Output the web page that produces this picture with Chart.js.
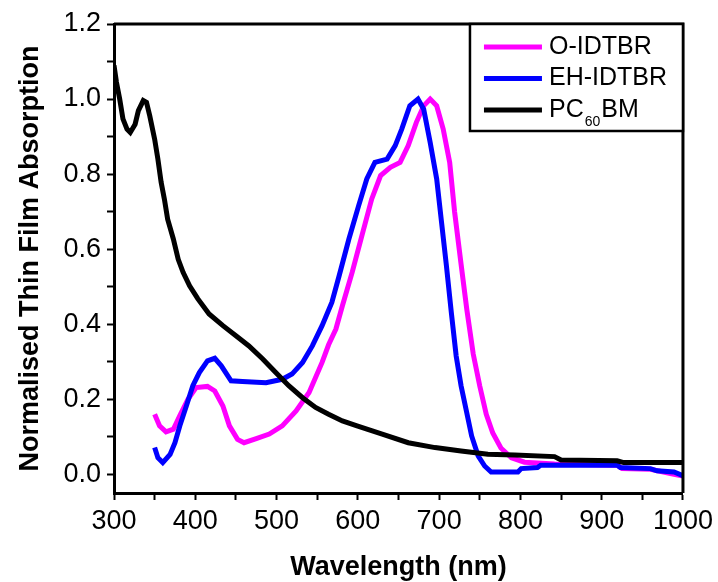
<!DOCTYPE html>
<html lang="en">
<head>
  <meta charset="UTF-8" />
  <title>Normalised Thin Film Absorption</title>
  <script src="https://cdn.jsdelivr.net/npm/chart.js"></script>
  <style>
    * { margin: 0; padding: 0; box-sizing: border-box; }
    body { background: #fff; }
    #absChart { display: block; }
  </style>
</head>
<body>
  <canvas id="absChart" width="718" height="582"></canvas>

  <script>
    // tick values
    const xTickValues = [300, 350, 400, 450, 500, 550, 600, 650, 700, 750, 800, 850, 900, 950, 1000];
    const yTickValues = [0, 0.1, 0.2, 0.3, 0.4, 0.5, 0.6, 0.7, 0.8, 0.9, 1.0, 1.1, 1.2];

    // O-IDTBR
    const oWave = [350, 356, 364, 373, 381, 391, 401, 415, 424, 434, 442, 452, 460, 475, 491, 507, 524, 540, 556, 564,
      573, 581, 593, 605, 617, 628, 640, 652, 662, 672, 681, 689, 697, 705, 713, 719, 727, 734, 742, 750,
      758, 766, 776, 789, 805, 842, 919, 925, 960, 989, 1000];
    const oAbs = [0.16, 0.129, 0.113, 0.12, 0.156, 0.2, 0.231, 0.234, 0.222, 0.182, 0.129, 0.093, 0.084, 0.095, 0.107, 0.129, 0.169, 0.218, 0.298, 0.345,
      0.387, 0.449, 0.538, 0.636, 0.733, 0.796, 0.818, 0.831, 0.876, 0.938, 0.982, 1.0, 0.982, 0.92, 0.831, 0.70, 0.56, 0.44, 0.32, 0.235,
      0.16, 0.11, 0.07, 0.044, 0.032, 0.027, 0.024, 0.015, 0.013, 0.0, -0.005];

    // EH-IDTBR
    const ehWave = [350, 354, 360, 369, 375, 381, 389, 397, 405, 415, 424, 432, 444, 458, 487, 507, 519, 532, 544, 556,
      568, 577, 589, 601, 611, 621, 636, 646, 654, 664, 674, 681, 689, 697, 703, 709, 715, 721, 727, 734,
      740, 748, 756, 764, 797, 801, 821, 825, 919, 923, 960, 968, 989, 1000];
    const ehAbs = [0.071, 0.044, 0.031, 0.053, 0.084, 0.129, 0.182, 0.236, 0.271, 0.302, 0.309, 0.289, 0.249, 0.247, 0.244, 0.253, 0.267, 0.298, 0.342, 0.396,
      0.458, 0.529, 0.627, 0.716, 0.787, 0.831, 0.84, 0.876, 0.92, 0.982, 1.0, 0.973, 0.884, 0.787, 0.671, 0.555, 0.431, 0.315, 0.236, 0.164,
      0.102, 0.049, 0.022, 0.006, 0.006, 0.015, 0.018, 0.024, 0.024, 0.018, 0.015, 0.009, 0.006, -0.004];

    // PC60BM
    const pcWave = [300, 303, 307, 311, 316, 320, 326, 330, 336, 340, 344, 350, 354, 358, 362, 366, 373, 379, 385, 393,
      403, 417, 434, 450, 466, 483, 499, 515, 532, 548, 564, 581, 599, 630, 662, 695, 727, 760, 793, 842,
      850, 919, 927, 1000];
    const pcAbs = [1.09, 1.045, 1.0, 0.947, 0.92, 0.911, 0.933, 0.969, 0.996, 0.991, 0.955, 0.893, 0.84, 0.778, 0.733, 0.68, 0.627, 0.573, 0.538, 0.502,
      0.468, 0.427, 0.396, 0.369, 0.342, 0.307, 0.271, 0.236, 0.204, 0.178, 0.16, 0.142, 0.129, 0.107, 0.084, 0.071, 0.062, 0.053, 0.051, 0.047,
      0.038, 0.036, 0.031, 0.031];

    const toPoints = (xs, ys) => xs.map((x, i) => ({ x: x, y: ys[i] }));

    const FONT = '"Liberation Sans", Arial, sans-serif';
    const tickFont = { family: FONT, size: 27 };
    const titleFont = { family: FONT, size: 27, weight: 'bold' };

    // box round the plot (top + right edges)
    const framePlugin = {
      id: 'frame',
      afterDraw(chart) {
        const { ctx, chartArea: a } = chart;
        ctx.save();
        ctx.strokeStyle = '#000';
        ctx.lineWidth = 3;
        ctx.beginPath();
        ctx.moveTo(a.left, a.top);
        ctx.lineTo(a.right, a.top);
        ctx.lineTo(a.right, a.bottom);
        ctx.stroke();
        ctx.restore();
      }
    };

    // legend with subscript for PC60BM
    const legendPlugin = {
      id: 'subLegend',
      afterDraw(chart) {
        const { ctx, chartArea: a } = chart;
        const w = 213, h = 107;
        const x0 = a.right - w, y0 = a.top;
        const rows = [
          { color: '#ff00ff', parts: [['O-IDTBR', false]] },
          { color: '#0000ff', parts: [['EH-IDTBR', false]] },
          { color: '#000000', parts: [['PC', false], ['60', true], ['BM', false]] }
        ];
        ctx.save();
        ctx.fillStyle = '#fff';
        ctx.fillRect(x0, y0, w, h);
        ctx.strokeStyle = '#000';
        ctx.lineWidth = 2.5;
        ctx.strokeRect(x0, y0, w, h);
        rows.forEach((r, i) => {
          const y = y0 + 23 + i * 31.5;
          ctx.strokeStyle = r.color;
          ctx.lineWidth = 5;
          ctx.beginPath();
          ctx.moveTo(x0 + 14, y);
          ctx.lineTo(x0 + 72, y);
          ctx.stroke();
          let tx = x0 + 79;
          ctx.fillStyle = '#000';
          ctx.textBaseline = 'middle';
          r.parts.forEach(([txt, sub]) => {
            ctx.font = sub ? '14px ' + FONT : '25px ' + FONT;
            ctx.fillText(txt, tx, sub ? y + 12 : y);
            tx += ctx.measureText(txt).width + 1;
          });
        });
        ctx.restore();
      }
    };

    const lineStyle = { borderWidth: 5, pointRadius: 0, tension: 0, fill: false };

    new Chart(document.getElementById('absChart'), {
      type: 'line',
      data: {
        datasets: [
          { label: 'PC60BM', data: toPoints(pcWave, pcAbs), borderColor: '#000000', order: 0, ...lineStyle },
          { label: 'EH-IDTBR', data: toPoints(ehWave, ehAbs), borderColor: '#0000ff', order: 1, ...lineStyle },
          { label: 'O-IDTBR', data: toPoints(oWave, oAbs), borderColor: '#ff00ff', order: 2, ...lineStyle }
        ]
      },
      options: {
        responsive: false,
        animation: false,
        layout: { padding: { top: 24, right: 33, left: 0, bottom: 0 } },
        plugins: { legend: { display: false }, tooltip: { enabled: false } },
        scales: {
          x: {
            type: 'linear', min: 300, max: 1000,
            afterBuildTicks: s => { s.ticks = xTickValues.map(v => ({ value: v })); },
            afterFit: s => { s.height = 89; },
            ticks: {
              font: tickFont, color: '#000', padding: 5, maxRotation: 0, autoSkip: false,
              callback: v => (v % 100 === 0 ? String(v) : '')
            },
            grid: { drawOnChartArea: false, tickLength: 7, tickWidth: 2, tickColor: '#000' },
            border: { width: 3, color: '#000' },
            title: { display: true, text: 'Wavelength (nm)', font: { ...titleFont, lineHeight: 1.05 }, color: '#000', padding: { top: 0, bottom: 0 } }
          },
          y: {
            min: -0.05, max: 1.2,
            afterBuildTicks: s => { s.ticks = yTickValues.map(v => ({ value: v })); },
            afterFit: s => { s.width = 114; },
            ticks: {
              font: tickFont, color: '#000', padding: 6, autoSkip: false,
              callback: v => (Math.round(v * 10) % 2 === 0 ? v.toFixed(1) : '')
            },
            grid: { drawOnChartArea: false, tickLength: 7, tickWidth: 2, tickColor: '#000' },
            border: { width: 3, color: '#000' },
            title: { display: true, text: 'Normalised Thin Film Absorption', font: titleFont, color: '#000', padding: { top: 14, bottom: 0 } }
          }
        }
      },
      plugins: [framePlugin, legendPlugin]
    });
  </script>
</body>
</html>
